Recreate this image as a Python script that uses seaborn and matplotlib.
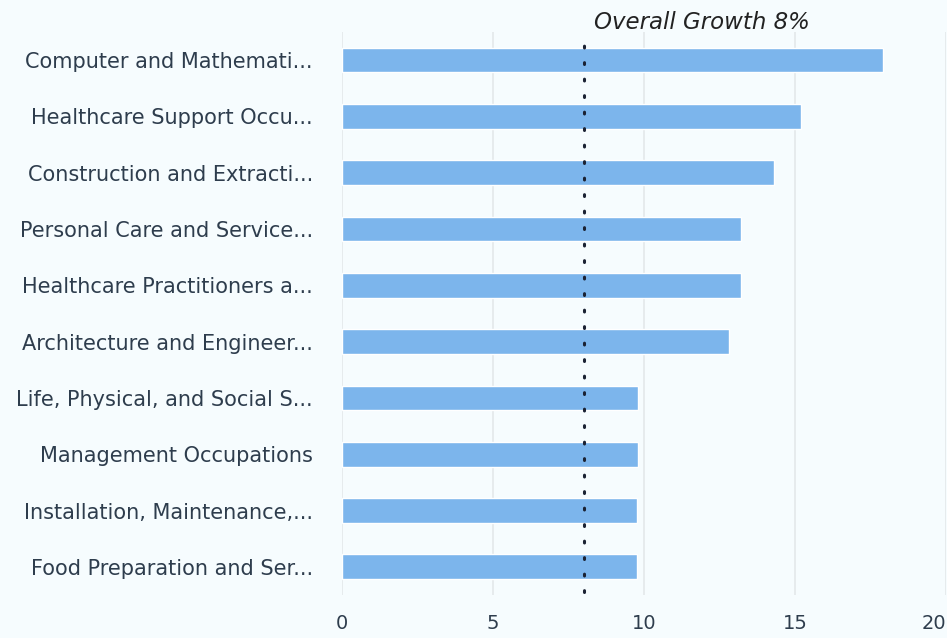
import matplotlib
matplotlib.use("Agg")
import matplotlib.pyplot as plt
import seaborn as sns
import pandas as pd

occupations = [
    "Computer and Mathemati...",
    "Healthcare Support Occu...",
    "Construction and Extracti...",
    "Personal Care and Service...",
    "Healthcare Practitioners a...",
    "Architecture and Engineer...",
    "Life, Physical, and Social S...",
    "Management Occupations",
    "Installation, Maintenance,...",
    "Food Preparation and Ser...",
]
growth = [17.9, 15.2, 14.3, 13.2, 13.2, 12.8, 9.8, 9.8, 9.75, 9.75]
overall_growth = 8
x_ticks = [0, 5, 10, 15, 20]

bg = "#f6fcfe"
text_color = "#2e3d4d"

sns.set_theme(style="white")
plt.rcParams["font.family"] = ["DejaVu Sans"]

df = pd.DataFrame({"occupation": occupations, "growth": growth})

fig = plt.figure(figsize=(9.47, 6.38), dpi=100, facecolor=bg)
ax = fig.add_axes([0.3612, 0.0674, 0.6378, 0.8826])
ax.set_facecolor(bg)

sns.barplot(data=df, x="growth", y="occupation", orient="h",
            color="#7cb5ec", width=0.44, saturation=1, ax=ax, zorder=3)

ax.set_xlim(0, 20)
ax.set_xticks(x_ticks)
ax.set_xticklabels([str(t) for t in x_ticks])
ax.grid(axis="x", color="#e3e8ea", linewidth=1.2, zorder=0)
ax.grid(axis="y", visible=False)
for s in ax.spines.values():
    s.set_visible(False)

ax.set_xlabel("")
ax.set_ylabel("")
ax.tick_params(axis="y", length=0, pad=21, labelsize=15, labelcolor=text_color)
ax.tick_params(axis="x", length=0, pad=14, labelsize=14, labelcolor=text_color)
# keep the last tick label inside the figure edge
ax.get_xticklabels()[-1].set_horizontalalignment("right")

# reference line for the overall growth rate
ax.axvline(overall_growth, ymin=0.005, ymax=1.0, color="#1b2233",
           linewidth=2.2, linestyle=(0, (0.6, 4.8)),
           dash_capstyle="round", zorder=4)
ax.text(overall_growth + 0.35, -0.56, f"Overall Growth {overall_growth}%",
        fontsize=16.5, fontstyle="italic", color="#222222",
        ha="left", va="baseline", clip_on=False)

fig.savefig("out.png", dpi=100, facecolor=bg)
